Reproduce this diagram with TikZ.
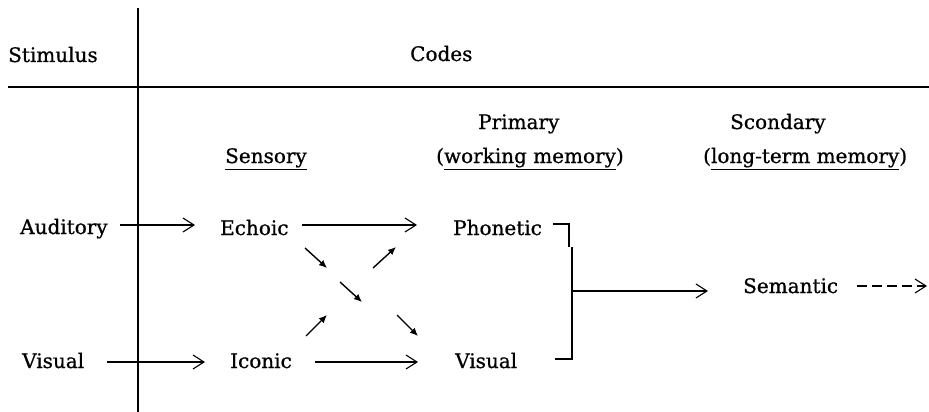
\documentclass[tikz,border=0pt]{standalone}
\usepackage{fontspec}
\setmainfont{DejaVu Serif}[FakeBold=0.8]
\usetikzlibrary{arrows.meta}
\begin{document}
\begin{tikzpicture}[x=1pt,y=-1pt,
  lbl/.style={inner sep=0pt, anchor=base west, text height=21pt, text depth=2pt,
              font=\fontsize{20}{24}\selectfont},
  rulel/.style={line width=1.3pt},
  openarr/.style={line width=1.1pt,-{Straight Barb[length=11pt,width=14pt,line width=1.1pt]}},
  diagarr/.style={line width=1.4pt,-{Latex[length=8pt,width=7pt]}},
  dasharr/.style={openarr, dash pattern=on 10pt off 5pt}]
\useasboundingbox (0,0) rectangle (929,412);
% frame lines
\draw[rulel] (138,8) -- (138,412);
\draw[rulel] (8,87) -- (929,87);
% header texts
\node[lbl] (stim) at (8,62) {Stimulus};
\node[lbl] (codes) at (410,61) {Codes};
\node[lbl] (sens) at (225,163) {\underline{Sensory}};
\node[lbl] (prim) at (478,129) {Primary};
\node[lbl] (work) at (436,163) {(\underline{working memory})};
\node[lbl] (scon) at (730,129) {Scondary};
\node[lbl] (long) at (703,163) {(\underline{long-term memory})};
% code nodes
\node[lbl] (aud) at (20,234) {Auditory};
\node[lbl] (echo) at (220,235) {Echoic};
\node[lbl] (phon) at (453,235) {Phonetic};
\node[lbl] (sem) at (743,293) {Semantic};
\node[lbl] (vis1) at (22,368) {Visual};
\node[lbl] (icon) at (230,368) {Iconic};
\node[lbl] (vis2) at (455,368) {Visual};
% horizontal arrows
\draw[openarr, shorten <=12pt, shorten >=25pt] (aud.east |- 0,225) -- (echo.west |- 0,225);
\draw[openarr, shorten <=13pt, shorten >=36pt] (echo.east |- 0,225) -- (phon.west |- 0,225);
\draw[openarr, shorten <=23pt, shorten >=25pt] (vis1.east |- 0,362) -- (icon.west |- 0,362);
\draw[openarr, shorten <=23pt, shorten >=37pt] (icon.east |- 0,362) -- (vis2.west |- 0,362);
% bracket
\draw[rulel] (553,224) -- (569,224) -- (569,247);
\draw[rulel] (572,247) -- (572,359) -- (555,359);
\coordinate (br) at (572,291);
\draw[openarr, shorten >=35pt] (br) -- (sem.west |- 0,291);
\coordinate (dend) at (927,286);
\draw[dasharr, shorten <=19pt] (sem.east |- 0,286) -- (dend);
% diagonal arrows
\coordinate (d1a) at (305,248); \coordinate (d1b) at (327,268);
\coordinate (d2a) at (373,268); \coordinate (d2b) at (396,247);
\coordinate (d3a) at (340,282); \coordinate (d3b) at (362,302);
\coordinate (d4a) at (306,336); \coordinate (d4b) at (327,315);
\coordinate (d5a) at (397,315); \coordinate (d5b) at (418,336);
\draw[diagarr] (d1a) -- (d1b);
\draw[diagarr] (d2a) -- (d2b);
\draw[diagarr] (d3a) -- (d3b);
\draw[diagarr] (d4a) -- (d4b);
\draw[diagarr] (d5a) -- (d5b);
\end{tikzpicture}
\end{document}
